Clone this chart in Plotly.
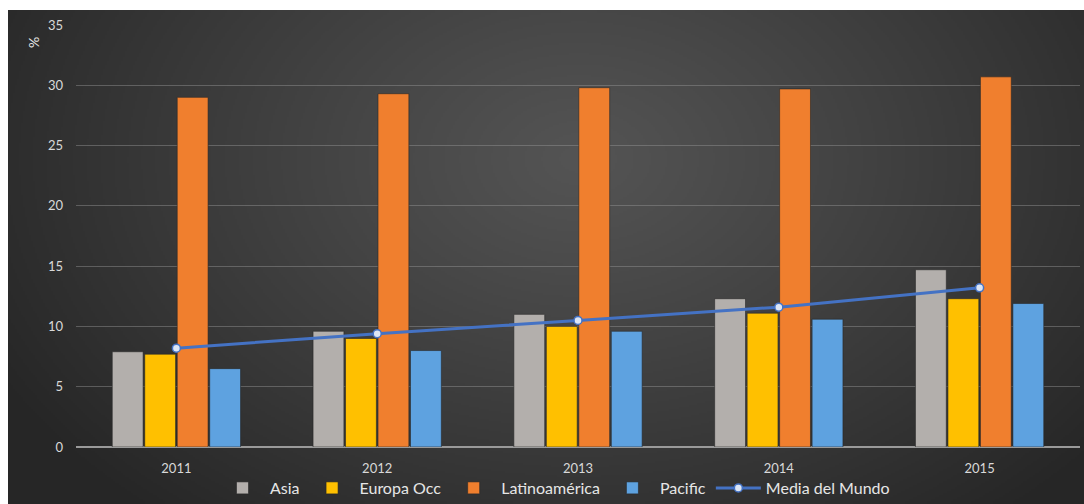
import base64, struct, zlib
import numpy as np
import plotly.graph_objects as go

years = ["2011", "2012", "2013", "2014", "2015"]
asia = [7.9, 9.6, 11.0, 12.3, 14.7]
europa = [7.7, 9.0, 10.0, 11.1, 12.3]
latino = [29.0, 29.3, 29.8, 29.7, 30.7]
pacific = [6.5, 8.0, 9.6, 10.6, 11.9]
media = [8.2, 9.4, 10.5, 11.6, 13.2]

W, H = 1084, 504
ML, MR, MT, MB = 76, 4, 25, 57
PW, PH = W - ML - MR, H - MT - MB


def png_uri(arr):
    h, w, _ = arr.shape
    raw = b"".join(b"\x00" + arr[i].tobytes() for i in range(h))

    def chunk(t, d):
        c = struct.pack(">I", len(d)) + t + d
        return c + struct.pack(">I", zlib.crc32(t + d) & 0xFFFFFFFF)

    png = b"\x89PNG\r\n\x1a\n" + chunk(b"IHDR", struct.pack(">IIBBBBB", w, h, 8, 2, 0, 0, 0))
    png += chunk(b"IDAT", zlib.compress(raw, 9)) + chunk(b"IEND", b"")
    return "data:image/png;base64," + base64.b64encode(png).decode()


# radial dark gradient background (panel from x=8..1084, y=10..504)
bw, bh = 1076 // 2, 494 // 2
yy, xx = np.mgrid[0:bh, 0:bw]
cx, cy = bw * 0.53, bh * 0.30
d = np.sqrt(((xx - cx) / (bw * 0.62)) ** 2 + ((yy - cy) / (bh * 0.95)) ** 2)
d = np.clip(d, 0, 1)
val = 84 - (84 - 38) * d ** 1.1
img = np.repeat(val[:, :, None], 3, axis=2).astype(np.uint8)
bg = png_uri(img)

fig = go.Figure()
colors = ["#b3afac", "#ffc000", "#f07f2e", "#5ea2e0"]
names = ["Asia", "Europa Occ", "Latinoamérica", "Pacific"]
for nm, vals, c in zip(names, [asia, europa, latino, pacific], colors):
    fig.add_trace(go.Bar(x=years, y=vals, name=nm,
                         marker=dict(color=c, line=dict(color="rgba(40,40,40,0.6)", width=1))))

fig.add_trace(go.Scatter(x=years, y=media, name="Media del Mundo", mode="lines+markers",
                         line=dict(color="#4472c4", width=3),
                         marker=dict(size=8, color="#dde6f5", line=dict(color="#4472c4", width=1.5))))

fx0 = (8 - ML) / PW
fy1 = (H - MB - 10) / PH
fig.add_layout_image(dict(source=bg, xref="paper", yref="paper", x=fx0, y=fy1,
                          sizex=(W - 8) / PW, sizey=(H - 10) / PH, sizing="stretch",
                          xanchor="left", yanchor="top", layer="below"))

FONT = "Lato, Open Sans, sans-serif"
tickfont = dict(family=FONT, size=13, color="#d9d9d9")
fig.update_layout(
    width=W, height=H,
    margin=dict(l=ML, r=MR, t=MT, b=MB, autoexpand=False),
    paper_bgcolor="white", plot_bgcolor="rgba(0,0,0,0)",
    barmode="group", bargap=0.353, bargroupgap=0.05,
    showlegend=True,
    legend=dict(orientation="h", xref="container", yref="container",
                x=555 / W, xanchor="center", y=1 - 488 / H, yanchor="middle",
                font=dict(family=FONT, size=16, color="#e6e6e6"),
                bgcolor="rgba(0,0,0,0)", traceorder="normal", itemwidth=45),
    xaxis=dict(tickfont=tickfont, showgrid=False, showline=False, ticks="", ticklen=0,
               ticklabelstandoff=12, automargin=False),
    yaxis=dict(range=[0, 35], dtick=5, tickfont=tickfont, gridcolor="rgba(150,150,150,0.45)",
               gridwidth=1, zeroline=True, zerolinecolor="#9a9a9a", zerolinewidth=2,
               showline=False, ticks="", ticklabelstandoff=12, automargin=False),
    annotations=[dict(text="%", xref="paper", yref="paper", x=(33 - ML) / PW, y=(H - MB - 43) / PH,
                      xanchor="center", yanchor="middle",
                      showarrow=False, textangle=-90,
                      font=dict(family=FONT, size=14, color="#e6e6e6"))],
)

fig.write_html("out.html")
